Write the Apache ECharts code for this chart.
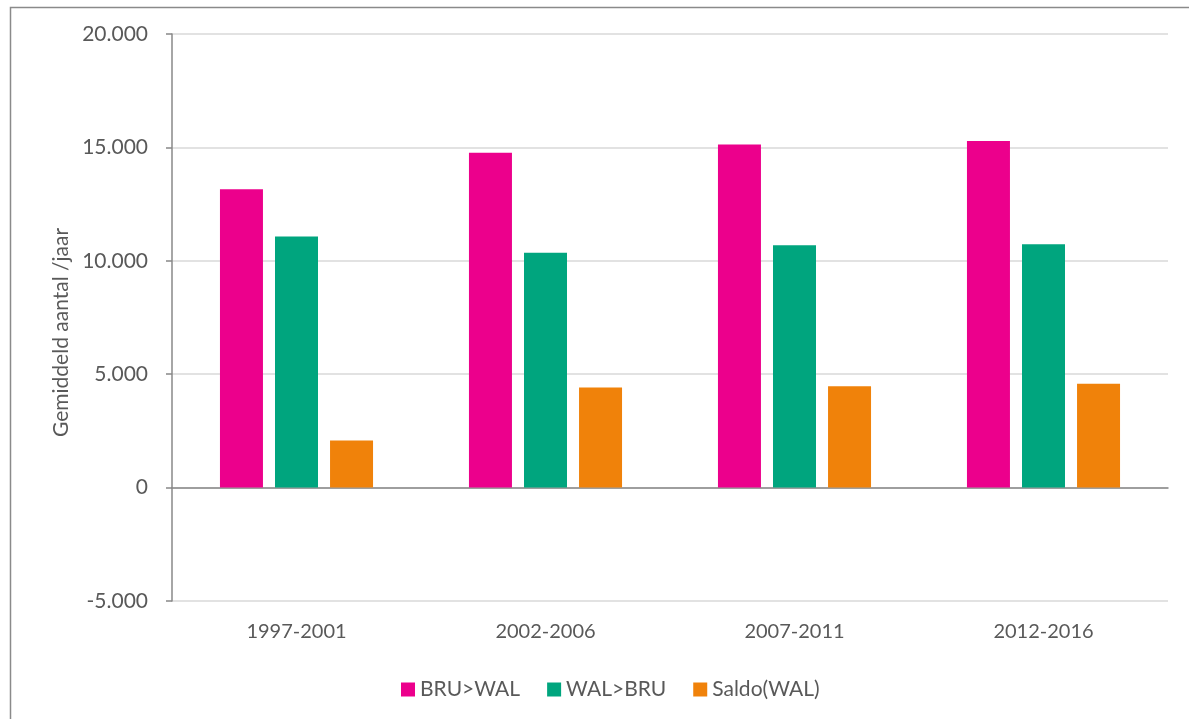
<!DOCTYPE html>
<html>
<head>
<meta charset="utf-8">
<script src="https://cdn.jsdelivr.net/npm/echarts@6/dist/echarts.min.js"></script>
<style>
html,body{margin:0;padding:0;background:#fff;}
#c{width:1189px;height:719px;}
</style>
</head>
<body>
<div id="c"></div>
<script>
const categories = ['1997-2001', '2002-2006', '2007-2011', '2012-2016'];
const bruWal = [13150, 14760, 15130, 15280];
const walBru = [11075, 10355, 10690, 10725];
const saldo = [2080, 4415, 4470, 4575];
const seriesNames = ['BRU>WAL', 'WAL>BRU', 'Saldo(WAL)'];
const colors = ['#EC008C', '#00A57E', '#F0820A'];

const FONT = 'Lato';
const chart = echarts.init(document.getElementById('c'), null, {renderer: 'canvas'});
const mk = (name, data, color) => ({
  name, type: 'bar', data,
  barWidth: 43, barGap: '28%',
  itemStyle: {color},
  emphasis: {disabled: true}
});
chart.setOption({
  animation: false,
  textStyle: {fontFamily: FONT},
  graphic: [{
    type: 'rect', left: 8, top: 5, shape: {x: 0, y: 0, width: 1200, height: 730},
    style: {fill: 'none', stroke: '#8a8a8a', lineWidth: 1.5}, silent: true
  }],
  grid: {left: 172, right: 21, top: 34, bottom: 118, containLabel: false},
  legend: {
    left: 396, top: 674, itemWidth: 14, itemHeight: 14, itemGap: 27,
    icon: 'rect',
    textStyle: {fontFamily: FONT, fontSize: 21, color: '#595959'},
    data: seriesNames
  },
  xAxis: {
    type: 'category', data: categories,
    axisLine: {onZero: true, lineStyle: {color: '#888888', width: 1.5}},
    axisTick: {show: false},
    axisLabel: {fontFamily: FONT, fontSize: 20, color: '#595959', margin: 21},
    position: 'bottom'
  },
  yAxis: {
    type: 'value', min: -5000, max: 20000, interval: 5000,
    name: 'Gemiddeld aantal /jaar', nameLocation: 'middle', nameGap: 99,
    nameTextStyle: {fontFamily: FONT, fontSize: 21, color: '#595959', padding: [0, 30, 0, 0]},
    axisLine: {show: true, lineStyle: {color: '#888888', width: 1.5}},
    axisTick: {show: true, length: 6, lineStyle: {color: '#888888', width: 1.5}},
    axisLabel: {fontFamily: FONT, fontSize: 21, color: '#595959', margin: 24,
      formatter: v => {
        const s = Math.abs(v).toString().replace(/\B(?=(\d{3})+(?!\d))/g, '.');
        return (v < 0 ? '-' : '') + s;
      }},
    splitLine: {lineStyle: {color: '#d9d9d9', width: 1.5}}
  },
  series: [mk(seriesNames[0], bruWal, colors[0]), mk(seriesNames[1], walBru, colors[1]), mk(seriesNames[2], saldo, colors[2])]
});
</script>
</body>
</html>
